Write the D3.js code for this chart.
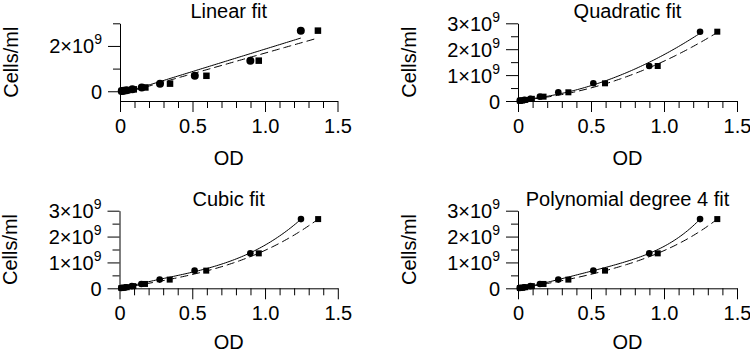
<!DOCTYPE html>
<html>
<head>
<meta charset="utf-8">
<script src="https://cdn.jsdelivr.net/npm/d3@7"></script>
<style>
  body { margin: 0; background: #fff; }
  text { font-family: "Liberation Sans", Arial, sans-serif; fill: #000; }
</style>
</head>
<body>
<svg width="750" height="353"></svg>
<script>
// data (cells in units of 1e9)
const odCircle = [0.012, 0.025, 0.045, 0.085, 0.15, 0.276, 0.516, 0.899, 1.247];
const cellsCircle = [0.0105, 0.021, 0.042, 0.084, 0.168, 0.336, 0.683, 1.351, 2.676];
const odSquare = [0.013, 0.027, 0.05, 0.095, 0.175, 0.345, 0.596, 0.957, 1.365];
const cellsSquare = [0.0105, 0.021, 0.042, 0.084, 0.168, 0.336, 0.683, 1.351, 2.676];

const titles = ["Linear fit", "Quadratic fit", "Cubic fit", "Polynomial degree 4 fit"];
const degrees = [1, 2, 3, 4];
const xMajorTicks = [0, 0.5, 1.0, 1.5];
const xMinorTicks = [0.1, 0.2, 0.3, 0.4, 0.6, 0.7, 0.8, 0.9, 1.1, 1.2, 1.3, 1.4];
const yMajorTicks = [[0, 2], [0, 1, 2, 3], [0, 1, 2, 3], [0, 1, 2, 3]];
const yMinorTicks = [[1, 3], [0.5, 1.5, 2.5], [0.5, 1.5, 2.5], [0.5, 1.5, 2.5]];

const svg = d3.select("svg");

// panel boxes (pixel layout)
const layout = [
  { left: 120, right: 337.5, top: 23.3, bottom: 101, yMin: -0.43, big: true },
  { left: 518, right: 737, top: 23.3, bottom: 101, yMin: 0 },
  { left: 119.5, right: 337.8, top: 210.7, bottom: 288.3, yMin: 0 },
  { left: 518, right: 737, top: 210.7, bottom: 288.3, yMin: 0 }
];

// least squares polynomial
const polyFit = (xs, ys, deg) => {
  const n = deg + 1;
  const A = d3.range(n).map(() => new Array(n + 1).fill(0));
  xs.forEach((x, k) => {
    for (let i = 0; i < n; i++) {
      for (let j = 0; j < n; j++) A[i][j] += Math.pow(x, i + j);
      A[i][n] += ys[k] * Math.pow(x, i);
    }
  });
  for (let c = 0; c < n; c++) {
    let p = c;
    for (let r = c + 1; r < n; r++) if (Math.abs(A[r][c]) > Math.abs(A[p][c])) p = r;
    [A[c], A[p]] = [A[p], A[c]];
    for (let r = 0; r < n; r++) {
      if (r === c) continue;
      const f = A[r][c] / A[c][c];
      for (let j = c; j <= n; j++) A[r][j] -= f * A[c][j];
    }
  }
  const coef = A.map((row, i) => row[n] / row[i]);
  return x => coef.reduce((s, a, i) => s + a * Math.pow(x, i), 0);
};

const yLabel = (sel, v) => {
  sel.text(null);
  if (v === 0) { sel.text("0"); return; }
  sel.append("tspan").text(v + "\u00d710");
  sel.append("tspan").attr("font-size", 14).attr("dy", -9).text("9");
};

layout.forEach((p, i) => {
  const xScale = d3.scaleLinear().domain([0, 1.5]).range([p.left, p.right]);
  const yScale = d3.scaleLinear().domain([p.yMin, 3]).range([p.bottom, p.top]);
  const g = svg.append("g");

  // x axis
  g.append("g").attr("transform", `translate(0,${p.bottom})`)
    .call(d3.axisBottom(xScale).tickValues(xMinorTicks).tickSize(7).tickSizeOuter(0).tickFormat(""))
    .call(a => a.select(".domain").remove());
  g.append("g").attr("transform", `translate(0,${p.bottom})`)
    .call(d3.axisBottom(xScale).tickValues(xMajorTicks).tickSize(11).tickSizeOuter(0)
      .tickFormat(d => d === 0 ? "0" : d3.format(".1f")(d)))
    .call(a => a.selectAll("text").attr("y", 32).attr("dy", 0)
      .attr("font-size", 20).attr("font-family", null));

  // y axis
  g.append("g").attr("transform", `translate(${p.left},0)`)
    .call(d3.axisLeft(yScale).tickValues(yMinorTicks[i]).tickSize(7).tickSizeOuter(0).tickFormat(""))
    .call(a => a.select(".domain").remove());
  g.append("g").attr("transform", `translate(${p.left},0)`)
    .call(d3.axisLeft(yScale).tickValues(yMajorTicks[i]).tickSize(12).tickSizeOuter(0))
    .call(a => a.selectAll("text").attr("x", -18).attr("dy", "0.35em")
      .attr("font-size", 20).attr("font-family", null).each(function (d) { yLabel(d3.select(this), d); }));

  svg.selectAll(".domain, .tick line").attr("stroke", "#000");

  // titles and axis labels
  g.append("text").attr("x", (p.left + p.right) / 2).attr("y", p.top - 5)
    .attr("text-anchor", "middle").attr("font-size", 20).text(titles[i]);
  g.append("text").attr("x", (p.left + p.right) / 2).attr("y", Math.min(p.bottom + 63.5, 348.5))
    .attr("text-anchor", "middle").attr("font-size", 20).text("OD");
  g.append("text")
    .attr("transform", `translate(${p.left - 102.5},${(p.top + p.bottom) / 2}) rotate(-90)`)
    .attr("text-anchor", "middle").attr("font-size", 20).text("Cells/ml");

  // fit curves
  const line = d3.line().x(d => xScale(d[0])).y(d => yScale(d[1]));
  const fitC = polyFit(odCircle, cellsCircle, degrees[i]);
  const fitS = polyFit(odSquare, cellsSquare, degrees[i]);
  const ext = (xs, f) => {
    const [a, b] = d3.extent(xs);
    return d3.range(0, 101).map(k => { const x = a + (b - a) * k / 100; return [x, f(x)]; });
  };
  g.append("path").datum(ext(odCircle, fitC)).attr("d", line)
    .attr("fill", "none").attr("stroke", "#000").attr("stroke-width", 1);
  g.append("path").datum(ext(odSquare, fitS)).attr("d", line)
    .attr("fill", "none").attr("stroke", "#000").attr("stroke-width", 1)
    .attr("stroke-dasharray", "8,4");

  // points
  const r = p.big ? 4 : 3.3;
  const s = p.big ? 6.5 : 6;
  g.selectAll("circle").data(odCircle).join("circle")
    .attr("cx", d => xScale(d)).attr("cy", (d, k) => yScale(cellsCircle[k]))
    .attr("r", r).attr("fill", "#000");
  g.selectAll("rect.sq").data(odSquare).join("rect").attr("class", "sq")
    .attr("x", d => xScale(d) - s / 2).attr("y", (d, k) => yScale(cellsSquare[k]) - s / 2)
    .attr("width", s).attr("height", s).attr("fill", "#000");
});
</script>
</body>
</html>
